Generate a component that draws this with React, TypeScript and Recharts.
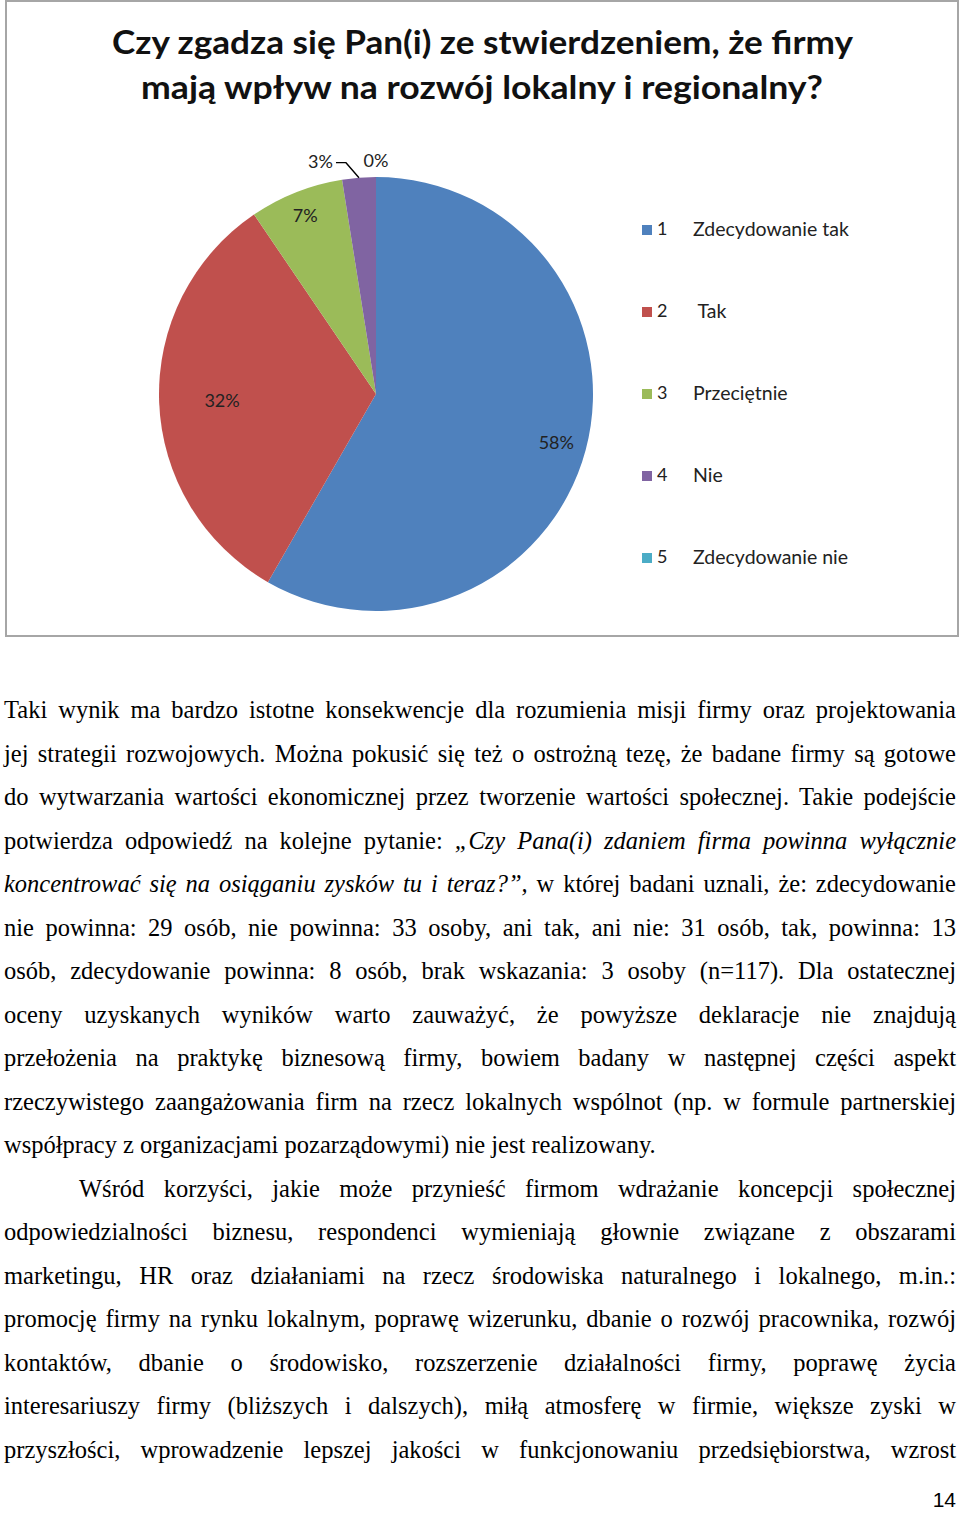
import { PieChart, Pie, Cell, Legend } from "recharts";

const categories = ["1", "2", "3", "4", "5"];
const answers = ["Zdecydowanie tak", " Tak", "Przeciętnie", "Nie", "Zdecydowanie nie"];
const shares = [58.3, 32.2, 7.0, 2.5, 0];
const colors = ["#4F81BD", "#C0504D", "#9BBB59", "#8064A2", "#4BACC6"];

const titleLines = [
  "Czy zgadza się Pan(i) ze stwierdzeniem, że firmy",
  "mają wpływ na rozwój lokalny i regionalny?"
];

// even items regular, odd items italic
const bodyLines: string[][] = [
  ["Taki wynik ma bardzo istotne konsekwencje dla rozumienia misji firmy oraz projektowania"],
  ["jej strategii rozwojowych. Można pokusić się też o ostrożną tezę, że badane firmy są gotowe"],
  ["do wytwarzania wartości ekonomicznej przez tworzenie wartości społecznej. Takie podejście"],
  ["potwierdza odpowiedź na kolejne pytanie: ", "„Czy Pana(i) zdaniem firma powinna wyłącznie"],
  ["", "koncentrować się na osiąganiu zysków tu i teraz?”,", " w której badani uznali, że: zdecydowanie"],
  ["nie powinna: 29 osób, nie powinna: 33 osoby, ani tak, ani nie: 31 osób, tak, powinna: 13"],
  ["osób, zdecydowanie powinna: 8 osób, brak wskazania: 3 osoby (n=117). Dla ostatecznej"],
  ["oceny uzyskanych wyników warto zauważyć, że powyższe deklaracje nie znajdują"],
  ["przełożenia na praktykę biznesową firmy, bowiem badany w następnej części aspekt"],
  ["rzeczywistego zaangażowania firm na rzecz lokalnych wspólnot (np. w formule partnerskiej"],
  ["współpracy z organizacjami pozarządowymi) nie jest realizowany."],
  ["Wśród korzyści, jakie może przynieść firmom wdrażanie koncepcji społecznej"],
  ["odpowiedzialności biznesu, respondenci wymieniają głownie związane z obszarami"],
  ["marketingu, HR oraz działaniami na rzecz środowiska naturalnego i lokalnego, m.in.:"],
  ["promocję firmy na rynku lokalnym, poprawę wizerunku, dbanie o rozwój pracownika, rozwój"],
  ["kontaktów, dbanie o środowisko, rozszerzenie działalności firmy, poprawę życia"],
  ["interesariuszy firmy (bliższych i dalszych), miłą atmosferę w firmie, większe zyski w"],
  ["przyszłości, wprowadzenie lepszej jakości w funkcjonowaniu przedsiębiorstwa, wzrost"]
];
const paragraphEnds = [10];
const indentedLines = [11];

const data = categories.map((c, i) => ({ name: c, label: answers[i], value: shares[i] }));

const RADIAN = Math.PI / 180;
const labelDepth = [0.86, 0.71, 0.885, 1, 1.08];
const chartFont = "Lato, 'Open Sans', sans-serif";

if (typeof document !== "undefined") {
  document.body.style.margin = "0";
}

function renderLabel(props: any) {
  const { cx, cy, midAngle, outerRadius, index, value } = props;
  const text = `${Math.round(value)}%`;
  const cos = Math.cos(-midAngle * RADIAN);
  const sin = Math.sin(-midAngle * RADIAN);
  if (index === 3) {
    const ax = cx + outerRadius * cos;
    const ay = cy + outerRadius * sin;
    const ex = ax - 13;
    const ey = ay - 15;
    return (
      <g key="lbl3">
        <polyline points={`${ax},${ay} ${ex},${ey} ${ex - 10},${ey}`} stroke="#000" strokeWidth={1.4} fill="none" />
        <text x={ex - 13} y={ey - 2} textAnchor="end" dominantBaseline="central" fontSize={18} fontFamily={chartFont} fill="#222">
          {text}
        </text>
      </g>
    );
  }
  const r = outerRadius * labelDepth[index];
  return (
    <text
      key={`lbl${index}`}
      x={cx + r * cos}
      y={cy + r * sin}
      textAnchor="middle"
      dominantBaseline="central"
      fontSize={18}
      fontFamily={chartFont}
      fill="#222"
    >
      {text}
    </text>
  );
}

function renderLegend() {
  return (
    <div style={{ fontFamily: chartFont, color: "#222" }}>
      {data.map((d, i) => (
        <div key={d.name} style={{ height: 82, display: "flex", alignItems: "center" }}>
          <span style={{ width: 10, height: 10, background: colors[i], marginTop: 4 }} />
          <span style={{ marginLeft: 5, width: 36, fontSize: 18 }}>{d.name}</span>
          <span style={{ fontSize: 19.5, whiteSpace: "pre" }}>{d.label}</span>
        </div>
      ))}
    </div>
  );
}

export default function App() {
  return (
    <div style={{ position: "relative", width: 960, height: 1513, background: "#fff", overflow: "hidden" }}>
      <div
        style={{
          position: "absolute",
          left: 5,
          top: 0,
          width: 950,
          height: 633,
          border: "2px solid #a6a6a6"
        }}
      />
      <svg style={{ position: "absolute", left: 0, top: 0 }} width={960} height={120}>
        <text x={482.5} y={54} textAnchor="middle" fontSize={33} fontWeight={700} fontFamily={chartFont} fill="#111" textLength={741} lengthAdjust="spacingAndGlyphs">
          {titleLines[0]}
        </text>
        <text x={482} y={99} textAnchor="middle" fontSize={33} fontWeight={700} fontFamily={chartFont} fill="#111" textLength={682} lengthAdjust="spacingAndGlyphs">
          {titleLines[1]}
        </text>
      </svg>
      <div style={{ position: "absolute", left: 0, top: 0 }}>
        <PieChart width={960} height={636} margin={{ top: 0, right: 0, bottom: 0, left: 0 }}>
          <Pie
            data={data}
            dataKey="value"
            nameKey="name"
            cx={376}
            cy={394}
            outerRadius={217}
            startAngle={90}
            endAngle={-270}
            stroke="none"
            label={renderLabel}
            labelLine={false}
            isAnimationActive={false}
          >
            {data.map((d, i) => (
              <Cell key={d.name} fill={colors[i]} />
            ))}
          </Pie>
          <Legend content={renderLegend} wrapperStyle={{ left: 642, top: 187, width: 300 }} />
        </PieChart>
      </div>
      <div
        style={{
          position: "absolute",
          left: 4,
          top: 688,
          width: 952,
          fontFamily: "'Liberation Serif', 'Times New Roman', serif",
          fontSize: 24.5,
          color: "#000"
        }}
      >
        {bodyLines.map((segs, li) => {
          const isLast = paragraphEnds.includes(li);
          return (
            <div
              key={li}
              style={{
                height: 43.5,
                lineHeight: "43.5px",
                whiteSpace: "nowrap",
                textAlign: isLast ? "left" : "justify",
                textAlignLast: isLast ? "left" : "justify",
                paddingLeft: indentedLines.includes(li) ? 75 : 0
              }}
            >
              {segs.map((s, si) => (si % 2 === 1 ? <i key={si}>{s}</i> : <span key={si}>{s}</span>))}
            </div>
          );
        })}
      </div>
      <div
        style={{
          position: "absolute",
          right: 4,
          top: 1488,
          fontFamily: "'Liberation Sans Narrow', 'Liberation Sans', sans-serif",
          fontSize: 21,
          color: "#000"
        }}
      >
        14
      </div>
    </div>
  );
}
